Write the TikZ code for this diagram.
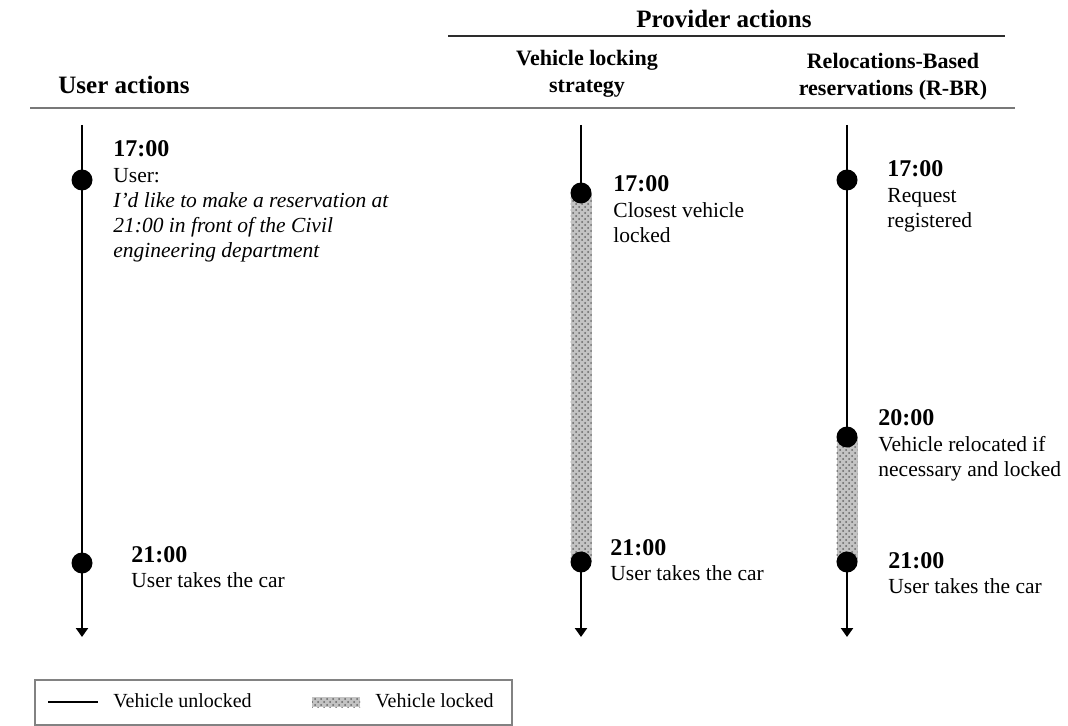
\documentclass[tikz,border=0pt]{standalone}
\usepackage{fontspec}
\setmainfont{Liberation Serif}
\usetikzlibrary{arrows.meta,patterns}
\definecolor{ink}{RGB}{0,0,0}
\definecolor{toprule}{RGB}{45,45,45}
\definecolor{midrule}{RGB}{120,120,120}
\definecolor{legendborder}{RGB}{130,130,130}
\definecolor{lockfill}{RGB}{195,195,195}
\definecolor{lockdots}{RGB}{100,100,100}

\begin{document}
\begin{tikzpicture}[
  x=0.5pt,
  y=-0.5pt,
  heading/.style={
    font=\fontsize{12.5}{15}\selectfont\bfseries,
    inner sep=0pt,
    anchor=base
  },
  subheading/.style={
    font=\fontsize{11}{13.5}\selectfont\bfseries,
    align=center,
    inner sep=0pt,
    anchor=base
  },
  timelabel/.style={
    font=\fontsize{12}{14}\selectfont\bfseries,
    inner sep=0pt,
    anchor=base west
  },
  desc/.style={
    font=\fontsize{10.75}{12.5}\selectfont,
    align=left,
    inner sep=0pt,
    anchor=base west
  },
  legendtext/.style={
    font=\fontsize{10}{12}\selectfont,
    inner sep=0pt,
    anchor=base west
  },
  timeline/.style={
    draw=ink,
    line width=1.3pt,
    -{Triangle[length=4.5pt,width=6pt]}
  },
  event/.style={
    circle,
    fill=ink,
    inner sep=0pt,
    minimum size=10.5pt
  },
  lockband/.style={
    fill=lockfill,
    postaction={pattern=crosshatch dots,pattern color=lockdots}
  }
]
\useasboundingbox (0,0) rectangle (1068,726);

% ---------------------------------------------------------------------------
% Column headings (a multi-line node sits on the baseline of its last line).
% ---------------------------------------------------------------------------
\node[heading] (provider) at (724,28) {Provider actions};
\draw[draw=toprule,line width=0.7pt] (448,36) -- (1005,36);
\node[subheading] (lockhead) at (587,93) {Vehicle locking\\strategy};
\node[subheading] (rbrhead) at (893,96)
  {Relocations-Based\\reservations (R-BR)};
\node[heading] (userhead) at (124,94) {User actions};
\draw[draw=midrule,line width=1pt] (30,108) -- (1015,108);

% ---------------------------------------------------------------------------
% User actions.
% ---------------------------------------------------------------------------
\coordinate (usertop) at (82,125);
\coordinate (userbottom) at (82,637);
\draw[timeline] (usertop) -- (userbottom);
\node[event] (user17) at (82,180) {};
\node[event] (user21) at (82,563) {};

\node[timelabel] (usertime17) at (113,157) {17:00};
\node[desc] (usertext17) at ([yshift=-50.5pt]usertime17.base west)
  {User:\\\textit{I’d like to make a reservation at}\\
   \textit{21:00 in front of the Civil}\\\textit{engineering department}};
\node[timelabel] (usertime21) at (131,562) {21:00};
\node[desc] (usertext21) at ([yshift=-12.5pt]usertime21.base west)
  {User takes the car};

% ---------------------------------------------------------------------------
% Vehicle locking strategy: locked from the request until pick-up.
% ---------------------------------------------------------------------------
\coordinate (locktop) at (581,125);
\coordinate (lockbottom) at (581,637);
\draw[timeline] (locktop) -- (lockbottom);
\coordinate (lock17) at (581,193);
\coordinate (lock21) at (581,562);
\fill[lockband] ([xshift=-5.25pt]lock17) rectangle ([xshift=5.25pt]lock21);
\node[event] (lockdot17) at (lock17) {};
\node[event] (lockdot21) at (lock21) {};

\node[timelabel] (locktime17) at (613,192) {17:00};
\node[desc] (locktext17) at ([yshift=-25.5pt]locktime17.base west)
  {Closest vehicle\\locked};
\node[timelabel] (locktime21) at (610,555) {21:00};
\node[desc] (locktext21) at ([yshift=-12.5pt]locktime21.base west)
  {User takes the car};

% ---------------------------------------------------------------------------
% R-BR: locked only after the relocation step.
% ---------------------------------------------------------------------------
\coordinate (rbrtop) at (847,125);
\coordinate (rbrbottom) at (847,637);
\draw[timeline] (rbrtop) -- (rbrbottom);
\coordinate (rbr17) at (847,180);
\coordinate (rbr20) at (847,437);
\coordinate (rbr21) at (847,562);
\fill[lockband] ([xshift=-5.25pt]rbr20) rectangle ([xshift=5.25pt]rbr21);
\node[event] (rbrdot17) at (rbr17) {};
\node[event] (rbrdot20) at (rbr20) {};
\node[event] (rbrdot21) at (rbr21) {};

\node[timelabel] (rbrtime17) at (887,177) {17:00};
\node[desc] (rbrtext17) at ([yshift=-25.5pt]rbrtime17.base west)
  {Request\\registered};
\node[timelabel] (rbrtime20) at (878,425) {20:00};
\node[desc] (rbrtext20) at ([yshift=-25.5pt]rbrtime20.base west)
  {Vehicle relocated if\\necessary and locked};
\node[timelabel] (rbrtime21) at (888,568) {21:00};
\node[desc] (rbrtext21) at ([yshift=-12.5pt]rbrtime21.base west)
  {User takes the car};

% ---------------------------------------------------------------------------
% Legend.
% ---------------------------------------------------------------------------
\draw[draw=legendborder,line width=0.7pt] (35,680) rectangle (512,725);
\coordinate (keylinestart) at (48,702);
\coordinate (keylineend) at (98,702);
\draw[draw=ink,line width=1.2pt] (keylinestart) -- (keylineend);
\node[legendtext] (keyunlocked) at (113,707) {Vehicle unlocked};
\fill[lockband] (312,697) rectangle (360,707);
\node[legendtext] (keylocked) at (375,707) {Vehicle locked};

\end{tikzpicture}
\end{document}
